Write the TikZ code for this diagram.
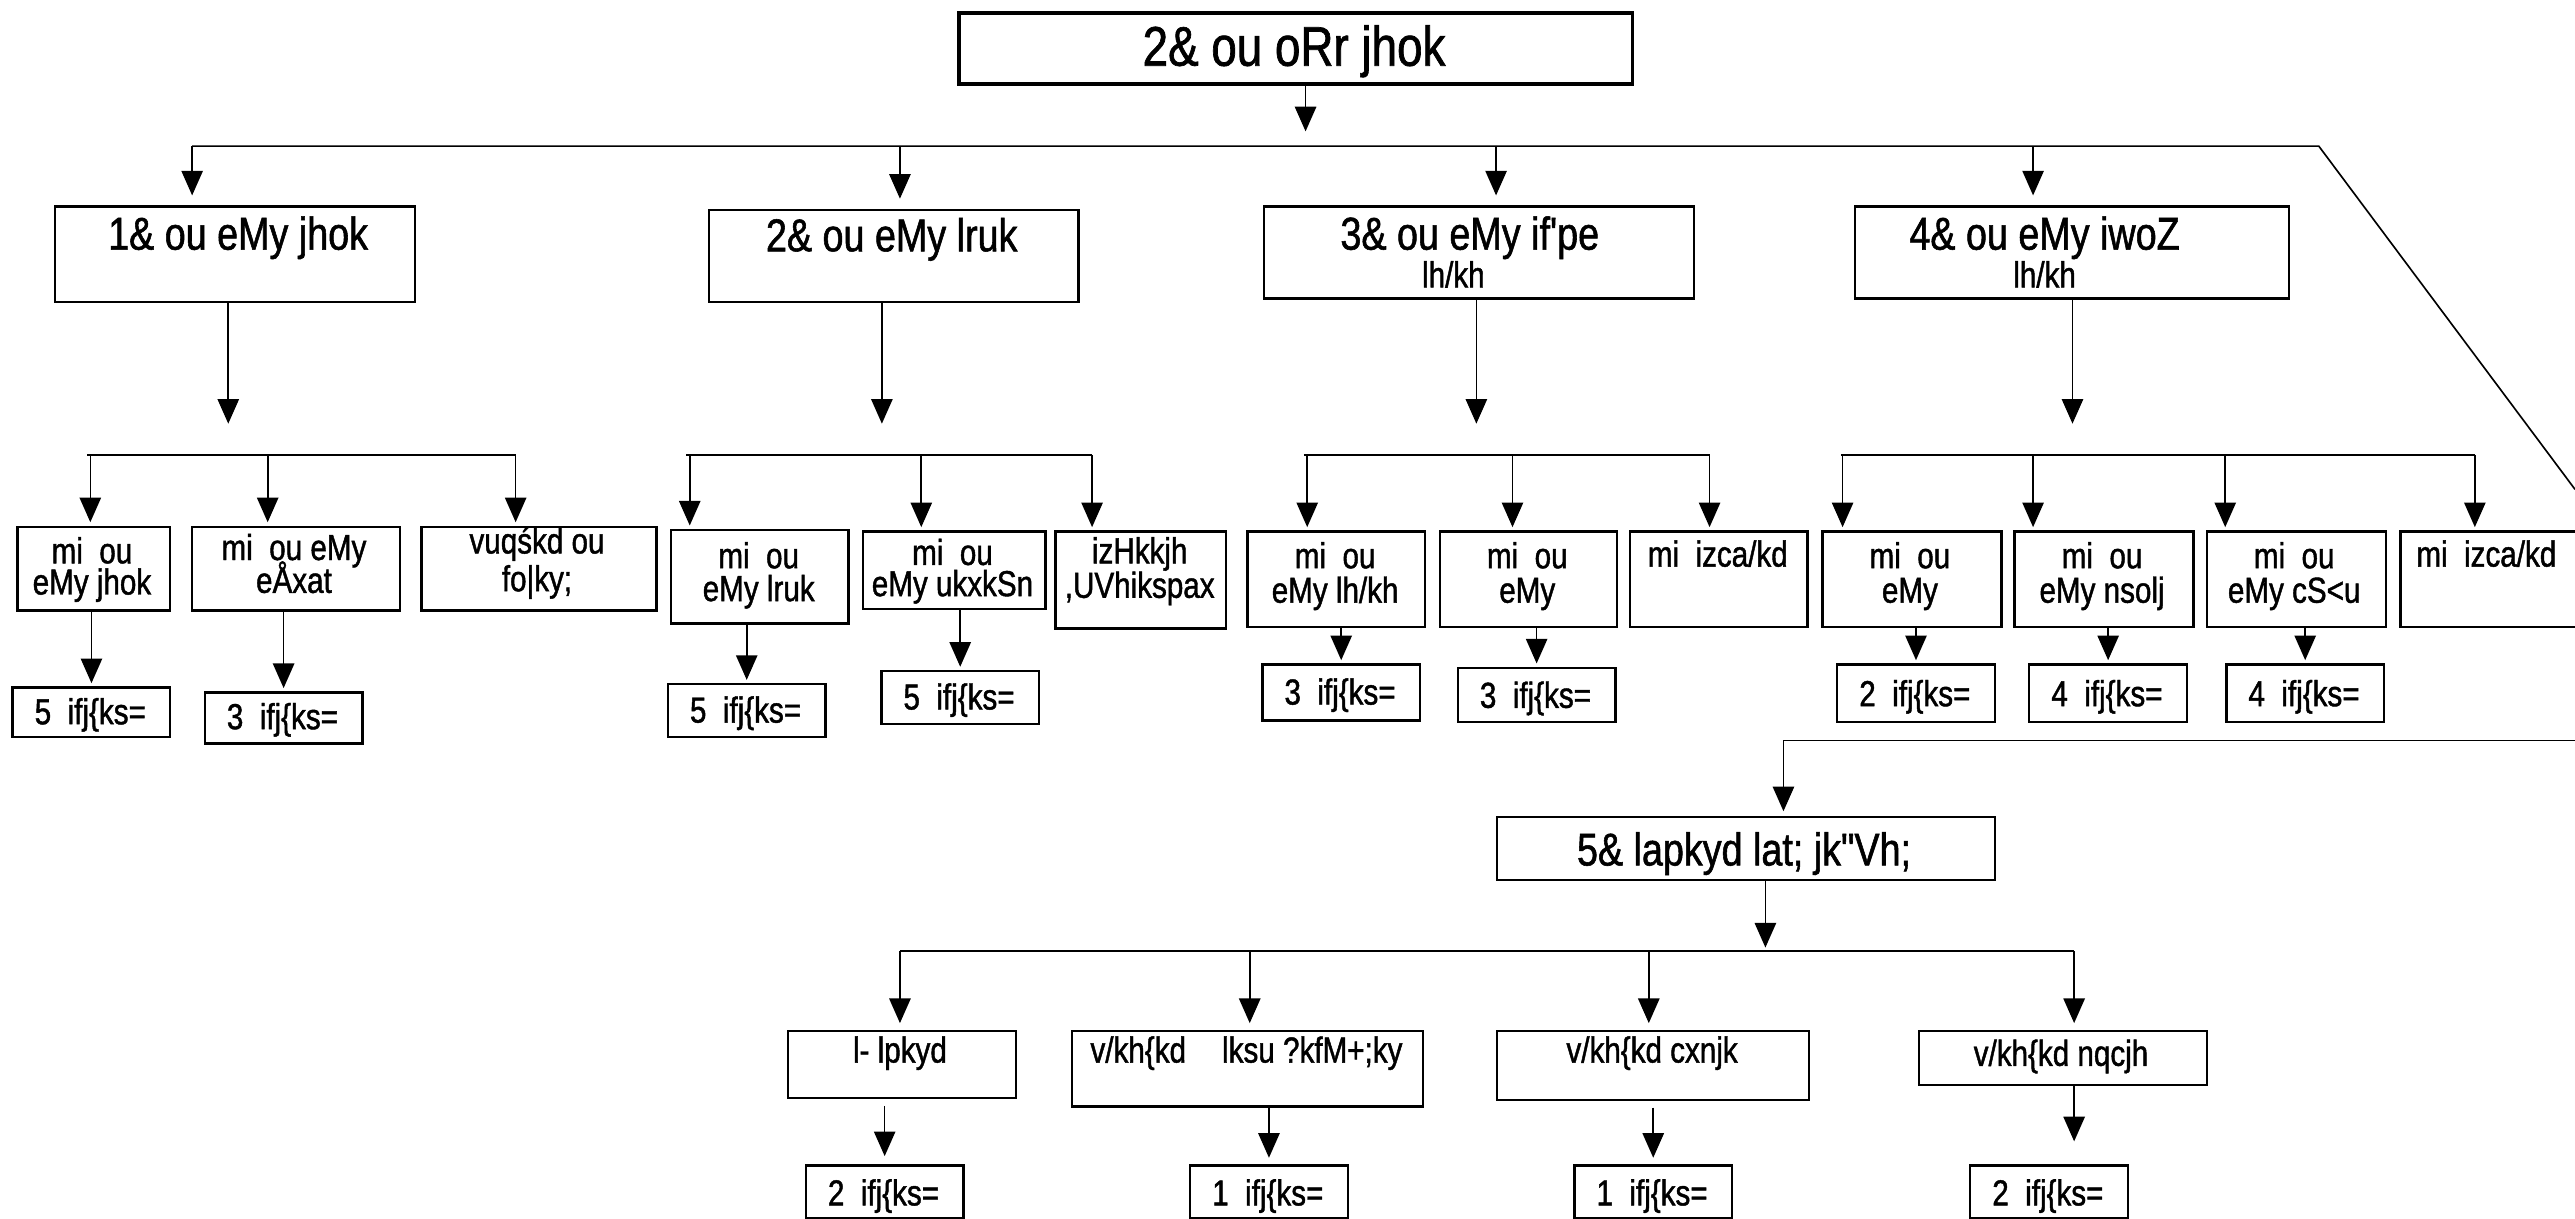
\documentclass[tikz,border=0pt]{standalone}
\usepackage{fontspec}
\setmainfont{Liberation Sans}[Ligatures=TeXOff,FakeStretch=0.82,FakeBold=1.2]
\usetikzlibrary{arrows.meta}
\newcommand\mkbox[6][]{\node[bx,#1,minimum width={(#5-#3)*1pt},minimum height={(#6-#4)*1pt}] (#2) at (#3,#4) {};}
\begin{document}
\begin{tikzpicture}[x=1pt,y=-1pt,
  bx/.style={draw,line width=1.4pt,inner sep=0pt,anchor=north west},
  tt/.style={inner sep=0pt,anchor=base},
  ft/.style={tt,font=\fontsize{34}{38}\selectfont},
  fa/.style={tt,font=\fontsize{28}{30}\selectfont},
  fb/.style={tt,font=\fontsize{22}{24}\selectfont},
  ln/.style={line width=1pt},
  arr/.style={line width=1pt,-{Triangle[length=15pt,width=13pt]}}]
\useasboundingbox (0,0) rectangle (1568,742);
\clip (0,0) rectangle (1568,742);
% boxes
\mkbox[line width=2.2pt]{title}{583}{7}{993}{50}
\mkbox{b1}{33}{125}{252}{183}
\mkbox{b2}{431}{127}{656}{183}
\mkbox{b3}{769}{125}{1031}{181}
\mkbox{b4}{1129}{125}{1393}{181}
\mkbox{c11}{10}{320}{103}{371}
\mkbox{c12}{116}{320}{243}{371}
\mkbox{c13}{256}{320}{399}{371}
\mkbox{d11}{7}{418}{103}{448}
\mkbox{d12}{124}{421}{220}{452}
\mkbox{c21}{408}{322}{516}{379}
\mkbox{c22}{525}{323}{636}{370}
\mkbox{c23}{642}{323}{746}{382}
\mkbox{d21}{406}{416}{502}{448}
\mkbox{d22}{536}{408}{632}{440}
\mkbox{c31}{759}{323}{867}{381}
\mkbox{c32}{876}{323}{984}{381}
\mkbox{c33}{992}{323}{1100}{381}
\mkbox{d31}{768}{404}{864}{438}
\mkbox{d32}{887}{406}{983}{439}
\mkbox{c41}{1109}{323}{1218}{381}
\mkbox{c42}{1226}{323}{1335}{381}
\mkbox{c43}{1343}{323}{1452}{381}
\mkbox{c44}{1461}{323}{1580}{381}
\mkbox{d41}{1118}{404}{1214}{439}
\mkbox{d42}{1235}{404}{1331}{439}
\mkbox{d43}{1355}{404}{1451}{439}
\mkbox{e}{911}{497}{1214}{535}
\mkbox{f1}{479}{627}{618}{668}
\mkbox{f2}{652}{627}{866}{673}
\mkbox{f3}{911}{627}{1101}{669}
\mkbox{f4}{1168}{627}{1343}{660}
\mkbox{g1}{490}{709}{586}{741}
\mkbox{g2}{724}{709}{820}{741}
\mkbox{g3}{958}{709}{1054}{741}
\mkbox{g4}{1199}{709}{1295}{741}
% texts
\node[ft] (titlet) at (788,40) {2\& ou oRr jhok};
\node[fa] (b1t) at (145,152) {1\& ou eMy jhok};
\node[fa] (b2t) at (543,153) {2\& ou eMy lruk};
\node[fa] (b3t) at (895,152) {3\& ou eMy if'pe};
\node[fb] (b3u) at (885,175) {lh/kh};
\node[fa] (b4t) at (1245,152) {4\& ou eMy iwoZ};
\node[fb] (b4u) at (1245,175) {lh/kh};
\node[fb] (c11t) at (56,343) {mi\ \ ou};
\node[fb] (c11u) at (56,362) {eMy jhok};
\node[fb] (c12t) at (179,341) {mi\ \ ou eMy};
\node[fb] (c12u) at (179,361) {eÅxat};
\node[fb] (c13t) at (327,337) {vuqśkd ou};
\node[fb] (c13u) at (327,360) {fo|ky;};
\node[fb] (c21t) at (462,346) {mi\ \ ou};
\node[fb] (c21u) at (462,366) {eMy lruk};
\node[fb] (c22t) at (580,344) {mi\ \ ou};
\node[fb] (c22u) at (580,363) {eMy ukxkSn};
\node[fb] (c23t) at (694,343) {izHkkjh};
\node[fb] (c23u) at (694,364) {,UVhikspax};
\node[fb] (c31t) at (813,346) {mi\ \ ou};
\node[fb] (c31u) at (813,367) {eMy lh/kh};
\node[fb] (c32t) at (930,346) {mi\ \ ou};
\node[fb] (c32u) at (930,367) {eMy};
\node[fb] (c33t) at (1046,345) {mi\ \ izca/kd};
\node[fb] (c41t) at (1163,346) {mi\ \ ou};
\node[fb] (c41u) at (1163,367) {eMy};
\node[fb] (c42t) at (1280,346) {mi\ \ ou};
\node[fb] (c42u) at (1280,367) {eMy nsolj};
\node[fb] (c43t) at (1397,346) {mi\ \ ou};
\node[fb] (c43u) at (1397,367) {eMy cS<u};
\node[fb] (c44t) at (1514,345) {mi\ \ izca/kd};
\node[fb] (d11t) at (55,441) {5\ \ ifj\{ks=};
\node[fb] (d12t) at (172,444) {3\ \ ifj\{ks=};
\node[fb] (d21t) at (454,440) {5\ \ ifj\{ks=};
\node[fb] (d22t) at (584,432) {5\ \ ifj\{ks=};
\node[fb] (d31t) at (816,429) {3\ \ ifj\{ks=};
\node[fb] (d32t) at (935,431) {3\ \ ifj\{ks=};
\node[fb] (d41t) at (1166,430) {2\ \ ifj\{ks=};
\node[fb] (d42t) at (1283,430) {4\ \ ifj\{ks=};
\node[fb] (d43t) at (1403,430) {4\ \ ifj\{ks=};
\node[fa] (et) at (1062,527) {5\& lapkyd lat; jk"Vh;};
\node[fb] (f1t) at (548,647) {l- lpkyd};
\node[fb] (f2t) at (759,647) {v/kh\{kd\quad lksu ?kfM+;ky};
\node[fb] (f3t) at (1006,647) {v/kh\{kd cxnjk};
\node[fb] (f4t) at (1255,649) {v/kh\{kd nqcjh};
\node[fb] (g1t) at (538,734) {2\ \ ifj\{ks=};
\node[fb] (g2t) at (772,734) {1\ \ ifj\{ks=};
\node[fb] (g3t) at (1006,734) {1\ \ ifj\{ks=};
\node[fb] (g4t) at (1247,734) {2\ \ ifj\{ks=};
% connectors, top
\coordinate (ta) at (795,80);
\draw[arr] (title.south -| ta) -- (ta);
\coordinate (h1) at (117,89);
\coordinate (h2) at (548,89);
\coordinate (h3) at (911,89);
\coordinate (h4) at (1238,89);
\coordinate (h5) at (1412,89);
\coordinate (hd) at (1568,298);
\draw[ln] (h1) -- (h5) -- (hd);
\foreach \h/\b in {h1/b1,h2/b2,h3/b3,h4/b4}
  \draw[arr,shorten >=6pt] (\h) -- (\h |- \b.north);
% level 1 down
\coordinate (v1) at (139,258);
\coordinate (v2) at (537,258);
\coordinate (v3) at (899,258);
\coordinate (v4) at (1262,258);
\foreach \v/\b in {v1/b1,v2/b2,v3/b3,v4/b4}
  \draw[arr] (\b.south -| \v) -- (\v);
% group bars
\coordinate (k11) at (55,277);  \coordinate (k12) at (163,277); \coordinate (k13) at (314,277);
\coordinate (k21) at (420,277); \coordinate (k22) at (561,277); \coordinate (k23) at (665,277);
\coordinate (k31) at (796,277); \coordinate (k32) at (921,277); \coordinate (k33) at (1041,277);
\coordinate (k41) at (1122,277); \coordinate (k42) at (1238,277); \coordinate (k43) at (1355,277); \coordinate (k44) at (1507,277);
\draw[ln] (53,277) -- (k13);
\draw[ln] (418,277) -- (k23);
\draw[ln] (794,277) -- (k33);
\draw[ln] (1121,277) -- (k44);
\foreach \k/\c in {k11/c11,k12/c12,k13/c13,k21/c21,k22/c22,k23/c23,k31/c31,k32/c32,k33/c33,k41/c41,k42/c42,k43/c43,k44/c44}
  \draw[arr,shorten >=2pt] (\k) -- (\k |- \c.north);
% C -> D
\foreach \c/\d in {c11/d11,c12/d12,c21/d21,c22/d22,c31/d31,c32/d32,c41/d41,c42/d42,c43/d43}
  \draw[arr,shorten >=2pt] (\d.north |- \c.south) -- (\d.north);
% right branch to E
\coordinate (r0) at (1568,451);
\coordinate (r1) at (1086,451);
\draw[ln] (r0) -- (r1);
\draw[arr,shorten >=3pt] (r1) -- (r1 |- e.north);
% E to bar
\coordinate (eb) at (1075,577);
\draw[arr] (e.south -| eb) -- (eb);
\coordinate (m1) at (548,579); \coordinate (m2) at (761,579);
\coordinate (m3) at (1004,579); \coordinate (m4) at (1263,579);
\draw[ln] (m1) -- (m4);
\foreach \m/\f in {m1/f1,m2/f2,m3/f3,m4/f4}
  \draw[arr,shorten >=4pt] (\m) -- (\m |- \f.north);
% F -> G
\draw[arr,shorten <=4pt,shorten >=5pt] (f1.south -| g1.north) -- (g1.north);
\draw[arr,shorten >=4pt] (f2.south -| g2.north) -- (g2.north);
\draw[arr,shorten <=4pt,shorten >=4pt] (f3.south -| g3.north) -- (g3.north);
\coordinate (gg4) at (1263,695);
\draw[arr] (f4.south -| gg4) -- (gg4);
\end{tikzpicture}
\end{document}
